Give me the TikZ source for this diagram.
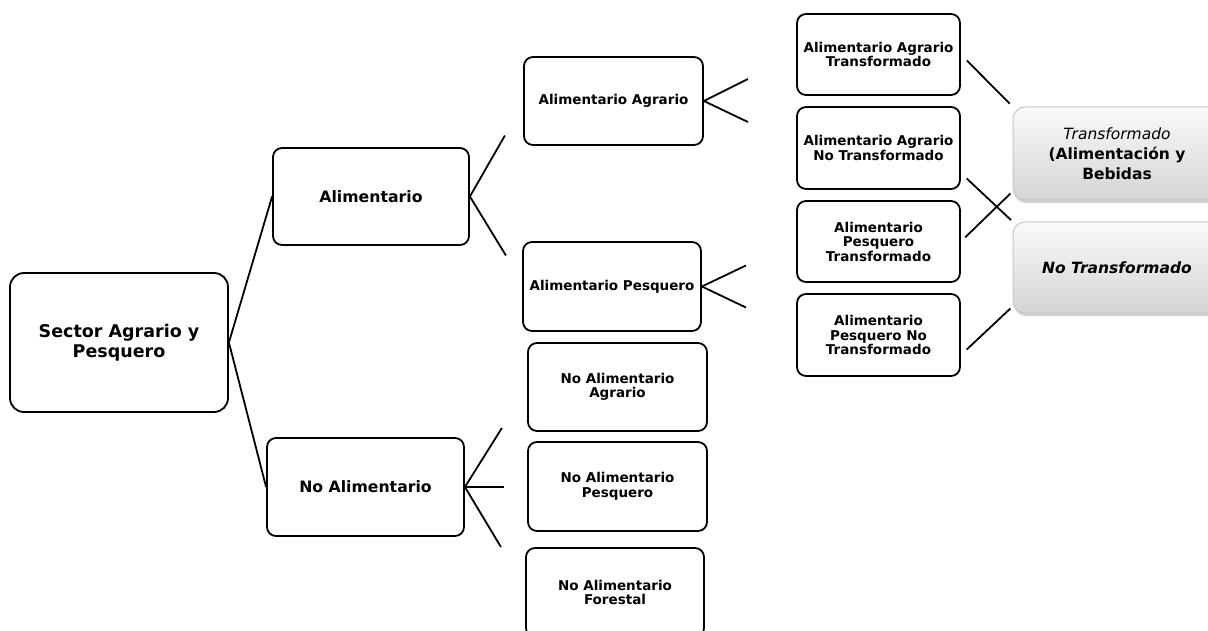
\documentclass[tikz,border=0pt]{standalone}
\usepackage{fontspec}
\setmainfont{DejaVu Sans}
\usepackage{xcolor}
\definecolor{boxgray}{HTML}{D4D4D4}
\definecolor{edgegray}{HTML}{C6C6C6}
\usetikzlibrary{shadows, calc}

\begin{document}
\begin{tikzpicture}[x=1pt, y=-1pt,
  box/.style={draw=black, line width=1.8pt, rounded corners=9pt, align=center,
    inner sep=0pt, font=\bfseries\fontsize{13.5}{14.5}\selectfont},
  midbox/.style={box, font=\bfseries\fontsize{15.7}{18}\selectfont},
  endbox/.style={draw=edgegray, line width=1pt, rounded corners=12pt,
    top color=white!96!gray, bottom color=boxgray,
    drop shadow={shadow xshift=1pt, shadow yshift=-3pt, fill=gray!70},
    align=center, inner sep=0pt, minimum width=208pt,
    font=\fontsize{15.5}{20}\selectfont},
  link/.style={line width=1.8pt}]

  \useasboundingbox (0,0) rectangle (1208,631);
  \fill[white] (0,0) rectangle (1208,631);
  \clip (0,0) rectangle (1208,631);

  % root
  \node[box, minimum width=218pt, minimum height=139pt, rounded corners=14pt,
    font=\bfseries\fontsize{17.5}{20}\selectfont] (sector) at (119,342.5) {Sector Agrario y\\Pesquero};

  % first level
  \node[midbox, minimum width=196pt, minimum height=97pt] (alim) at (371,196.5) {Alimentario};
  \node[midbox, minimum width=197pt, minimum height=98pt] (noalim) at (365.5,487) {No Alimentario};

  % second level
  \node[box, minimum width=179pt, minimum height=88pt] (aagr) at (613.5,101) {Alimentario Agrario};
  \node[box, minimum width=178pt, minimum height=89pt] (apesq) at (612,286.5) {Alimentario Pesquero};
  \node[box, minimum width=179pt, minimum height=88pt] (naagr) at (617.5,387) {No Alimentario\\Agrario};
  \node[box, minimum width=179pt, minimum height=89pt] (napesq) at (617.5,486.5) {No Alimentario\\Pesquero};
  \node[box, minimum width=178pt, minimum height=89pt] (nafor) at (615,592.5) {No Alimentario\\Forestal};

  % third level
  \node[box, minimum width=163pt, minimum height=81pt] (aat) at (878.5,54.5) {Alimentario Agrario\\Transformado};
  \node[box, minimum width=163pt, minimum height=82pt] (aant) at (878.5,148) {Alimentario Agrario\\No Transformado};
  \node[box, minimum width=163pt, minimum height=81pt] (apt) at (878.5,241.5) {Alimentario\\Pesquero\\Transformado};
  \node[box, minimum width=163pt, minimum height=82pt] (apnt) at (878.5,335) {Alimentario\\Pesquero No\\Transformado};

  % grouping
  \node[endbox, minimum height=93pt] (transf) at (1117,153.5) {\itshape Transformado\\\bfseries (Alimentación y\\\bfseries Bebidas};
  \node[endbox, minimum height=91pt] (notransf) at (1117,267.5) {\bfseries\itshape No Transformado};

  % connectors
  \draw[link] (sector.east) -- (alim.west);
  \draw[link] (sector.east) -- (noalim.west);
  \draw[link] (alim.east) -- ++(35,-61);
  \draw[link] (alim.east) -- ++(36,59);
  \draw[link] (aagr.east) -- ++(44,-22);
  \draw[link] (aagr.east) -- ++(44,21);
  \draw[link] (apesq.east) -- ++(44,-21);
  \draw[link] (apesq.east) -- ++(44,21);
  \draw[link] (noalim.east) -- ++(37,-59);
  \draw[link] (noalim.east) -- ++(39,0);
  \draw[link] (noalim.east) -- ++(36,60);

  \draw[link, shorten <=8.5pt, shorten >=4pt] (aat.east) -- (transf.north west);
  \draw[link, shorten <=8pt, shorten >=2pt] ([yshift=-25pt]aant.east) -- (notransf.north west);
  \draw[link, shorten <=6pt, shorten >=3pt] (apt.east) -- ([yshift=9pt]transf.south west);
  \draw[link, shorten <=8pt, shorten >=3pt] ([yshift=-20pt]apnt.east) -- ([yshift=7pt]notransf.south west);
\end{tikzpicture}
\end{document}
